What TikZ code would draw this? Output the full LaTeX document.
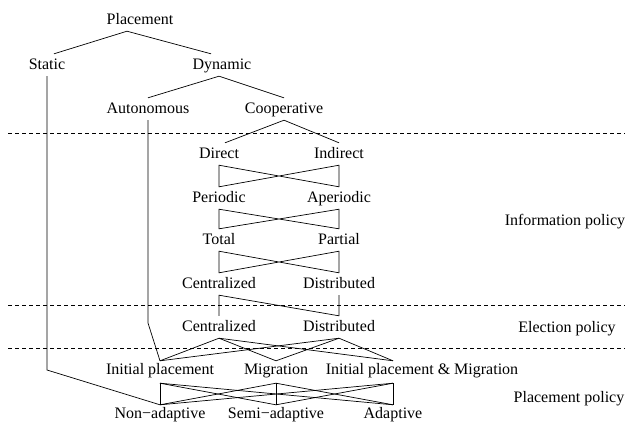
\documentclass[tikz,border=0pt]{standalone}
\usepackage{fontspec}
\setmainfont{Liberation Serif}
\usepackage{tikz}

\begin{document}
\begin{tikzpicture}[
		x=1pt, y=-1pt,
		font=\fontsize{16}{19}\selectfont,
		% Define styles for the terms and the lines
		term_node/.style={
			anchor=base,
			inner xsep=1pt,
			inner ysep=4pt,
			text height=11pt,
			text depth=3pt
		},
		low_node/.style={
			term_node,
			text height=9pt,
			text depth=5pt
		},
		policy_node/.style={
			anchor=base,
			inner sep=0pt
		},
		branch_line/.style={
			line width=0.7pt,
			line join=miter
		},
		layer_line/.style={
			line width=0.7pt,
			dash pattern=on 4pt off 3pt
		},
		]
		\useasboundingbox (0,0) rectangle (626,421);
		
		% ----- Nodes -----
		% Kind of placement
		\node[term_node] (placement) at (140,24) {Placement};
		\node[term_node] (static) at (47,69) {Static};
		\node[term_node] (dynamic) at (222,69) {Dynamic};
		\node[term_node] (autonomous) at (148,113) {Autonomous};
		\node[term_node] (cooperative) at (284,113) {Cooperative};
		
		% Information policy
		\node[term_node] (direct) at (219,158) {Direct};
		\node[term_node] (indirect) at (339,158) {Indirect};
		\node[term_node] (periodic) at (219,202) {Periodic};
		\node[term_node] (aperiodic) at (339,202) {Aperiodic};
		\node[term_node] (total) at (219,244) {Total};
		\node[term_node] (partial) at (339,244) {Partial};
		\node[term_node] (info_central) at (219,288) {Centralized};
		\node[term_node] (info_distrib) at (339,288) {Distributed};
		
		% Election policy
		\node[term_node] (elect_central) at (219,331) {Centralized};
		\node[term_node] (elect_distrib) at (339,331) {Distributed};
		
		% Placement policy
		\node[low_node] (initial) at (160,374) {Initial placement};
		\node[low_node] (migration) at (276,374) {Migration};
		\node[low_node] (both) at (422,374) {Initial placement \& Migration};
		\node[low_node] (nonadaptive) at (160,418) {Non−adaptive};
		\node[low_node] (semiadaptive) at (276,418) {Semi−adaptive};
		\node[low_node] (adaptive) at (393,418) {Adaptive};
		
		% Names of the layers
		\node[policy_node] (info_policy) at (565,225) {Information policy};
		\node[policy_node] (elect_policy) at (567,332) {Election policy};
		\node[policy_node] (place_policy) at (569,402) {Placement policy};
		
		\coordinate (static_bend) at (47,370);
		\coordinate (auto_bend) at (148,323);
		
		% ----- Lines -----
		% Borders between the layers
		\draw[layer_line] (8,133) -- (625,133);
		\draw[layer_line] (8,305) -- (625,305);
		\draw[layer_line] (8,348) -- (625,348);
		
		% Tree of the kinds
		\draw[branch_line] ([xshift=7pt]static.north) -- ([xshift=-13pt]placement.south) -- ([xshift=-11pt]dynamic.north);
		\draw[branch_line] (autonomous.north) -- ([xshift=-3pt]dynamic.south) -- (cooperative.north);
		\draw[branch_line] ([xshift=6pt]direct.north) -- (cooperative.south) -- (indirect.north);
		\draw[branch_line] (static.south) -- (static_bend) -- (nonadaptive.north);
		\draw[branch_line] (autonomous.south) -- (auto_bend) -- (initial.north);
		
		% Every choice leads to every choice below it
		\foreach \ul/\ur/\ll/\lr in {direct/indirect/periodic/aperiodic, periodic/aperiodic/total/partial, total/partial/info_central/info_distrib}
		\draw[branch_line] (\ul.south) -- (\ll.north) -- (\ur.south) -- (\lr.north) -- cycle;
		\draw[branch_line] (elect_central.north) -- (info_central.south) -- (elect_distrib.north) -- (info_distrib.south);
		
		\foreach \src in {elect_central, elect_distrib}
		\foreach \dst in {initial.north, migration.north, both.north -| adaptive.north}
		\draw[branch_line] (\src.south) -- (\dst);
		
		\foreach \src in {initial.south, migration.south, both.south -| adaptive.north}
		\foreach \dst in {nonadaptive, semiadaptive, adaptive}
		\draw[branch_line] (\src) -- (\dst.north);
		
	\end{tikzpicture}
\end{document}
